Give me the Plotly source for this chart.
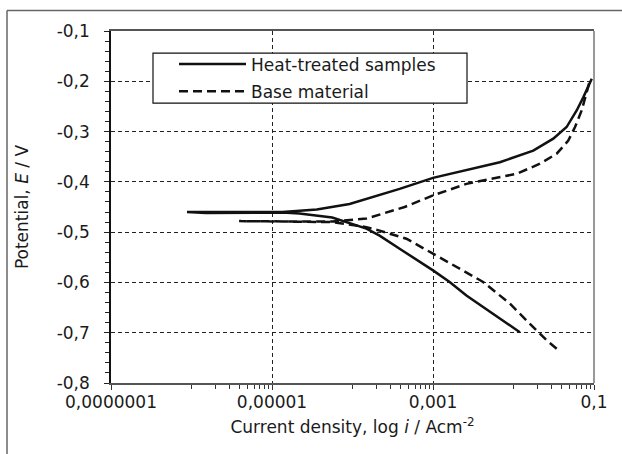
import plotly.graph_objects as go

# ---- data ----
ht_current = [0.0120, 0.00558, 0.0026, 0.00161, 0.00100, 0.000385, 0.000217, 0.000149,
              0.000056, 0.0000219, 0.0000135, 0.0000015,
              0.00000088, 0.0000135, 0.000036, 0.000092, 0.000237, 0.000385, 0.00100,
              0.0026, 0.00676, 0.0176, 0.0312, 0.0457, 0.0609, 0.0736, 0.0938]
ht_potential = [-0.699, -0.662, -0.626, -0.599, -0.576, -0.533, -0.507, -0.493,
                -0.471, -0.463, -0.461, -0.462,
                -0.460, -0.460, -0.455, -0.444, -0.424, -0.414, -0.392,
                -0.377, -0.361, -0.338, -0.314, -0.291, -0.258, -0.232, -0.195]

bm_current = [0.0344, 0.0258, 0.0176, 0.0090, 0.00419, 0.00100, 0.000467, 0.000217,
              0.000149, 0.000056, 0.0000219, 0.0000107,
              0.0000039, 0.0000219, 0.000056, 0.000149, 0.000444, 0.00100, 0.0026,
              0.00558, 0.0109, 0.0213, 0.0344, 0.0479, 0.0581, 0.0703, 0.0772, 0.0891]
bm_potential = [-0.732, -0.715, -0.689, -0.642, -0.599, -0.543, -0.513, -0.497,
                -0.490, -0.480, -0.479, -0.479,
                -0.478, -0.479, -0.479, -0.473, -0.450, -0.427, -0.404,
                -0.394, -0.384, -0.364, -0.344, -0.318, -0.291, -0.258, -0.232, -0.198]

series_names = ["Heat-treated samples", "Base material"]

x_tickvals = [1e-7, 1e-5, 1e-3, 1e-1]
x_ticktext = ["0,0000001", "0,00001", "0,001", "0,1"]
x_minor = [m * 10 ** e for e in (-6, -4, -2) for m in range(1, 10)]

y_tickvals = [-0.8, -0.7, -0.6, -0.5, -0.4, -0.3, -0.2, -0.1]
y_ticktext = ["-0,8", "-0,7", "-0,6", "-0,5", "-0,4", "-0,3", "-0,2", "-0,1"]

FONT = "DejaVu Sans"
INK = "#1a1a1a"

fig = go.Figure()
fig.add_trace(go.Scatter(x=ht_current, y=ht_potential, mode="lines", name=series_names[0],
                         legendgroup="a",
                         line=dict(color="#111", width=2.5)))
fig.add_trace(go.Scatter(x=bm_current, y=bm_potential, mode="lines", name=series_names[1],
                         legendgroup="b",
                         line=dict(color="#111", width=2.5, dash="9px,5px")))

# plot-area pixel geometry -> paper conversion helpers
L, R, T, B = 111, 594, 30.5, 382.7
W, H = R - L, B - T
def px(x): return (x - L) / W
def py(y): return (B - y) / H

fig.update_layout(
    width=622, height=454,
    margin=dict(l=L, r=622 - R, t=T, b=454 - B, autoexpand=False),
    paper_bgcolor="white", plot_bgcolor="white",
    font=dict(family=FONT, size=17, color=INK),
    showlegend=True,
    legend=dict(x=px(174), y=py(46), xanchor="left", yanchor="top",
                bgcolor="rgba(0,0,0,0)", borderwidth=0,
                font=dict(family=FONT, size=17, color=INK),
                itemwidth=67, tracegroupgap=2),
    xaxis=dict(type="log", range=[-7, -1], automargin=False,
               tickvals=x_tickvals, ticktext=x_ticktext,
               ticks="outside", ticklen=5, tickcolor="#333", tickwidth=1,
               ticklabelstandoff=-2,
               minor=dict(tickvals=x_minor, ticks="outside", ticklen=4, tickcolor="#333",
                          showgrid=False),
               showgrid=True, gridcolor="#222", gridwidth=1, griddash="4px,3px",
               showline=True, linecolor="#555", linewidth=1.5, mirror=True,
               zeroline=False,
               title=dict(text="Current density, log <i>i</i> / Acm<sup>-2</sup>",
                          font=dict(size=17), standoff=10),
               tickfont=dict(size=17)),
    yaxis=dict(range=[-0.8, -0.1], automargin=False,
               tickvals=y_tickvals, ticktext=y_ticktext,
               ticks="outside", ticklen=5, tickcolor="#222",
               ticklabelstandoff=11,
               minor=dict(dtick=0.02, ticks="outside", ticklen=4, tickcolor="#222",
                          showgrid=False),
               showgrid=True, gridcolor="#222", gridwidth=1, griddash="4px,3px",
               showline=True, linecolor="#111", linewidth=1.5,
               zeroline=False,
               title=dict(text="Potential, <i>E</i> / V", font=dict(size=17), standoff=24),
               tickfont=dict(size=17)),
    shapes=[
        # legend box
        dict(type="rect", xref="paper", yref="paper",
             x0=px(153), x1=px(467), y0=py(102.7), y1=py(52.7),
             line=dict(color="#111", width=1.2), fillcolor="white", layer="above"),
        # right border of plot area
        dict(type="line", xref="paper", yref="paper", x0=1, x1=1, y0=0, y1=1,
             line=dict(color="#777", width=1.5)),
        # outer frame (top and left)
        dict(type="line", xref="paper", yref="paper", x0=px(7), x1=px(640),
             y0=py(10), y1=py(10), line=dict(color="#666", width=1.5)),
        dict(type="line", xref="paper", yref="paper", x0=px(7), x1=px(7),
             y0=py(10), y1=py(470), line=dict(color="#666", width=1.5)),
    ],
)

fig.write_html("out.html", config={"displayModeBar": False},
               post_script="document.body.style.margin='0px';")
